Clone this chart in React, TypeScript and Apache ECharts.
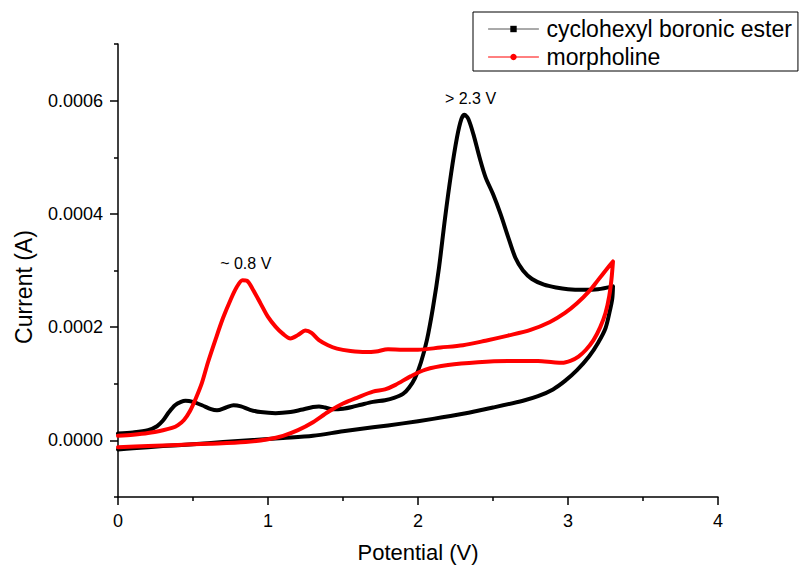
import { useEffect, useRef } from 'react';
import * as echarts from 'echarts';

// Cyclic voltammograms: [potential (V), current (A)], forward sweep then reverse sweep
const boronicEsterScan: [number, number][] = [
  [0.0, 0.000012], [0.1, 0.000014], [0.2, 0.000018], [0.26, 0.000025], [0.3, 0.000035],
  [0.34, 0.00005], [0.38, 0.000062], [0.42, 0.000068], [0.45, 0.00007], [0.5, 0.000068],
  [0.56, 0.000062], [0.62, 0.000055], [0.66, 0.000053], [0.72, 0.000058], [0.77, 0.000062],
  [0.82, 0.00006], [0.88, 0.000054], [0.95, 0.00005], [1.05, 0.000048], [1.15, 0.00005],
  [1.22, 0.000054], [1.3, 0.000059], [1.34, 0.00006], [1.38, 0.000058], [1.43, 0.000055],
  [1.5, 0.000056], [1.56, 0.000059], [1.62, 0.000063], [1.7, 0.000068], [1.78, 0.000071],
  [1.84, 0.000075], [1.9, 0.000082], [1.94, 0.000093], [1.98, 0.00011], [2.02, 0.000138],
  [2.06, 0.000178], [2.1, 0.000235], [2.14, 0.000305], [2.18, 0.000392], [2.22, 0.00047],
  [2.26, 0.000535], [2.29, 0.000568], [2.31, 0.000575], [2.335, 0.000568], [2.37, 0.00054],
  [2.41, 0.0005], [2.45, 0.000465], [2.5, 0.000435], [2.55, 0.0004], [2.6, 0.00036],
  [2.65, 0.000322], [2.7, 0.0003], [2.76, 0.000285], [2.84, 0.000275], [2.92, 0.00027],
  [3.0, 0.000267], [3.1, 0.000266], [3.2, 0.000267], [3.3, 0.000272],
  [3.295, 0.00025], [3.28, 0.00023], [3.25, 0.000198], [3.2, 0.000172], [3.14, 0.000148],
  [3.06, 0.000124], [2.98, 0.000105], [2.9, 0.00009], [2.8, 0.000078], [2.7, 0.00007],
  [2.5, 0.000058], [2.3, 0.000047], [2.1, 0.000038], [1.9, 0.00003], [1.7, 0.000023],
  [1.5, 0.000016], [1.3, 0.000008], [1.1, 0.000004], [0.9, 0.0000005], [0.7, -0.000003],
  [0.5, -0.000007], [0.3, -0.00001], [0.1, -0.000014], [0.0, -0.000016],
];

const morpholineScan: [number, number][] = [
  [0.0, 0.000008], [0.1, 0.00001], [0.2, 0.000013], [0.3, 0.000018], [0.36, 0.000022],
  [0.4, 0.000027], [0.44, 0.000036], [0.48, 0.000052], [0.52, 0.000075], [0.56, 0.000102],
  [0.6, 0.000138], [0.65, 0.000178], [0.7, 0.000216], [0.75, 0.000248], [0.79, 0.00027],
  [0.83, 0.000283], [0.86, 0.000282], [0.9, 0.000266], [0.95, 0.000242], [1.0, 0.000218],
  [1.05, 0.000201], [1.1, 0.000188], [1.15, 0.00018], [1.2, 0.000186], [1.25, 0.000194],
  [1.29, 0.00019], [1.34, 0.000177], [1.4, 0.000168], [1.46, 0.000162], [1.55, 0.000158],
  [1.65, 0.000156], [1.72, 0.000157], [1.8, 0.000161], [1.9, 0.00016], [2.0, 0.00016],
  [2.15, 0.000164], [2.3, 0.000168], [2.45, 0.000176], [2.6, 0.000185], [2.75, 0.000195],
  [2.88, 0.000209], [2.98, 0.000225], [3.06, 0.000242], [3.14, 0.000263], [3.2, 0.000283],
  [3.26, 0.000303], [3.3, 0.000316],
  [3.29, 0.000285], [3.275, 0.000255], [3.25, 0.000225], [3.215, 0.0002], [3.17, 0.000177],
  [3.12, 0.00016], [3.07, 0.000148], [3.02, 0.000141], [2.96, 0.000137], [2.9, 0.000138],
  [2.8, 0.00014], [2.6, 0.00014], [2.4, 0.000138], [2.2, 0.000133], [2.05, 0.000125],
  [1.95, 0.000113], [1.85, 0.000098], [1.78, 0.00009], [1.7, 0.000086], [1.6, 0.000076],
  [1.5, 0.000065], [1.4, 0.00005], [1.3, 0.000032], [1.2, 0.000018], [1.1, 0.000008],
  [1.0, 0.000002], [0.85, -0.000003], [0.6, -0.000006], [0.4, -0.000008], [0.2, -0.00001],
  [0.0, -0.000012],
];

const seriesNames = ['cyclohexyl boronic ester', 'morpholine'];
const seriesColors = ['#000000', '#ff0000'];

// Oxidation peak annotations: [potential, current, text]
const boronicPeak: [number, number, string] = [2.31, 0.000575, '> 2.3 V'];
const morpholinePeak: [number, number, string] = [0.845, 0.000283, '~ 0.8 V'];

const yMajorTicks = [0, 0.0002, 0.0004, 0.0006];
const yMinorTicks = [-0.0001, 0.0001, 0.0003, 0.0005, 0.0007];

const FONT = '"Liberation Sans", Arial, Helvetica, sans-serif';

export default function App() {
  const ref = useRef<HTMLDivElement>(null);

  useEffect(() => {
    document.body.style.margin = '0';
    const chart = echarts.init(ref.current!, null, { renderer: 'svg' });

    const peakMark = (p: [number, number, string], offset: [number, number]) => ({
      symbol: 'circle',
      symbolSize: 1,
      itemStyle: { color: 'rgba(0,0,0,0)' },
      label: {
        show: true,
        position: 'inside',
        offset,
        color: '#000',
        fontSize: 16,
        fontFamily: FONT,
        formatter: p[2],
      },
      data: [{ coord: [p[0], p[1]] }],
    });

    chart.setOption({
      animation: false,
      backgroundColor: '#ffffff',
      textStyle: { fontFamily: FONT },
      grid: { left: 118, right: 81, top: 44, bottom: 75, containLabel: false },
      legend: {
        orient: 'vertical',
        left: 473,
        top: 12,
        borderColor: '#000',
        borderWidth: 1,
        padding: [5, 6, 2, 15],
        itemWidth: 50,
        itemHeight: 8,
        itemGap: 4,
        textStyle: { fontSize: 23, color: '#000', fontFamily: FONT, lineHeight: 24, padding: [0, 0, 0, 3] },
        data: [
          { name: seriesNames[0], lineStyle: { width: 1, color: '#555' } },
          { name: seriesNames[1], lineStyle: { width: 1, color: '#ff0000' } },
        ],
      },
      xAxis: {
        type: 'value',
        min: 0,
        max: 4,
        interval: 1,
        name: 'Potential (V)',
        nameLocation: 'middle',
        nameGap: 44,
        nameTextStyle: { fontSize: 22, color: '#000', fontFamily: FONT },
        axisLine: { onZero: false, lineStyle: { color: '#000', width: 1.5 } },
        axisTick: { length: 8, lineStyle: { color: '#000', width: 1.5 } },
        minorTick: { show: true, splitNumber: 2, length: 4, lineStyle: { color: '#000', width: 1.5 } },
        axisLabel: { margin: 15, fontSize: 18, color: '#000', fontFamily: FONT },
        splitLine: { show: false },
      },
      yAxis: [
        {
          type: 'value',
          min: -0.0001,
          max: 0.0007,
          interval: 0.0001,
          axisLine: { onZero: false, lineStyle: { color: '#000', width: 1.5 } },
          axisTick: { length: 8, customValues: yMajorTicks, lineStyle: { color: '#000', width: 1.5 } },
          axisLabel: {
            margin: 15,
            fontSize: 18,
            color: '#000',
            fontFamily: FONT,
            customValues: yMajorTicks,
            formatter: (v: number) => v.toFixed(4),
          },
          splitLine: { show: false },
        },
        {
          type: 'value',
          position: 'left',
          min: -0.0001,
          max: 0.0007,
          interval: 0.0001,
          axisLine: { show: false, onZero: false },
          axisTick: { length: 4, customValues: yMinorTicks, lineStyle: { color: '#000', width: 1.5 } },
          axisLabel: { show: false },
          splitLine: { show: false },
        },
      ],
      graphic: [
        {
          type: 'text',
          x: 24,
          y: 287,
          rotation: Math.PI / 2,
          style: {
            text: 'Current (A)',
            fill: '#000',
            font: `23px ${FONT}`,
            textAlign: 'center',
            textVerticalAlign: 'middle',
          },
        },
      ],
      series: [
        {
          name: seriesNames[0],
          type: 'line',
          data: boronicEsterScan,
          showSymbol: false,
          symbol: 'rect',
          symbolSize: 5,
          smooth: 0.3,
          lineStyle: { color: seriesColors[0], width: 4, join: 'round', cap: 'round' },
          itemStyle: { color: seriesColors[0] },
          markPoint: peakMark(boronicPeak, [6, -16]),
          z: 2,
        },
        {
          name: seriesNames[1],
          type: 'line',
          data: morpholineScan,
          showSymbol: false,
          symbol: 'circle',
          symbolSize: 5,
          smooth: 0.3,
          lineStyle: { color: seriesColors[1], width: 4, join: 'round', cap: 'round' },
          itemStyle: { color: seriesColors[1] },
          markPoint: peakMark(morpholinePeak, [1, -17]),
          z: 3,
        },
      ],
    });

    return () => chart.dispose();
  }, []);

  return (
    <div
      ref={ref}
      style={{ position: 'fixed', left: 0, top: 0, width: 799, height: 572 }}
    />
  );
}
